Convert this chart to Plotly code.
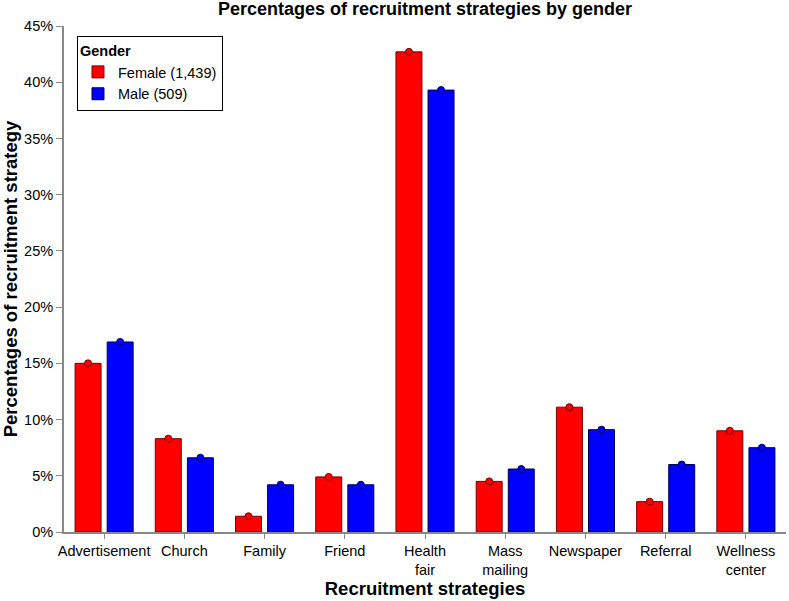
import plotly.graph_objects as go

categories = ["Advertisement", "Church", "Family", "Friend", "Health<br>fair",
              "Mass<br>mailing", "Newspaper", "Referral", "Wellness<br>center"]
female = [15.0, 8.3, 1.4, 4.9, 42.7, 4.5, 11.1, 2.7, 9.0]
male = [16.9, 6.6, 4.2, 4.2, 39.3, 5.6, 9.1, 6.0, 7.5]
series_names = ["Female (1,439)", "Male (509)"]
tick_vals = [0, 5, 10, 15, 20, 25, 30, 35, 40, 45]
tick_text = [f"{v}%" for v in tick_vals]

RED = "#ff0000"
BLUE = "#0000ff"
RED_EDGE = "#7a0000"
BLUE_EDGE = "#00005e"

fig = go.Figure()
fig.add_trace(go.Bar(x=categories, y=female, name=series_names[0], offsetgroup="f",
                     marker=dict(color=RED, line=dict(color=RED_EDGE, width=1))))
fig.add_trace(go.Bar(x=categories, y=male, name=series_names[1], offsetgroup="m",
                     marker=dict(color=BLUE, line=dict(color=BLUE_EDGE, width=1))))
fig.add_trace(go.Scatter(x=categories, y=female, mode="markers", offsetgroup="f",
                         showlegend=False, hoverinfo="skip", cliponaxis=False,
                         marker=dict(color=RED, size=7, line=dict(color=RED_EDGE, width=1))))
fig.add_trace(go.Scatter(x=categories, y=male, mode="markers", offsetgroup="m",
                         showlegend=False, hoverinfo="skip", cliponaxis=False,
                         marker=dict(color=BLUE, size=7, line=dict(color=BLUE_EDGE, width=1))))

fig.update_layout(
    width=789, height=601,
    margin=dict(l=64, r=3, t=26, b=69),
    paper_bgcolor="white", plot_bgcolor="white",
    barmode="group", bargap=0.2, bargroupgap=0.19,
    scattermode="group", scattergap=0.2,
    font=dict(family="Liberation Sans, Arial, sans-serif", size=14.5, color="black"),
    title=dict(text="<b>Percentages of recruitment strategies by gender</b>",
               x=0.5, xref="paper", xanchor="center", y=0.996, yanchor="top",
               font=dict(size=18)),
    legend=dict(title=dict(text="<b>Gender</b>", font=dict(size=14.5)),
                x=0.018, y=0.98, xanchor="left", yanchor="top",
                bordercolor="black", borderwidth=1, bgcolor="white",
                font=dict(size=14.5), tracegroupgap=2, itemwidth=30),
    xaxis=dict(title=dict(text="<b>Recruitment strategies</b>", font=dict(size=18.5), standoff=4),
               showline=True, linecolor="#888888", linewidth=2,
               ticks="outside", tickcolor="#888888", ticklen=5, tickwidth=1,
               showgrid=False, tickangle=0),
    yaxis=dict(title=dict(text="<b>Percentages of recruitment strategy</b>", font=dict(size=18.5), standoff=6),
               range=[0, 45], tickvals=tick_vals, ticktext=tick_text,
               showline=True, linecolor="#888888", linewidth=2,
               ticks="outside", tickcolor="#888888", ticklen=6, tickwidth=1,
               showgrid=False, zeroline=False),
)

fig.write_html("out.html", config={"displayModeBar": False},
               post_script="document.body.style.margin='0';")
